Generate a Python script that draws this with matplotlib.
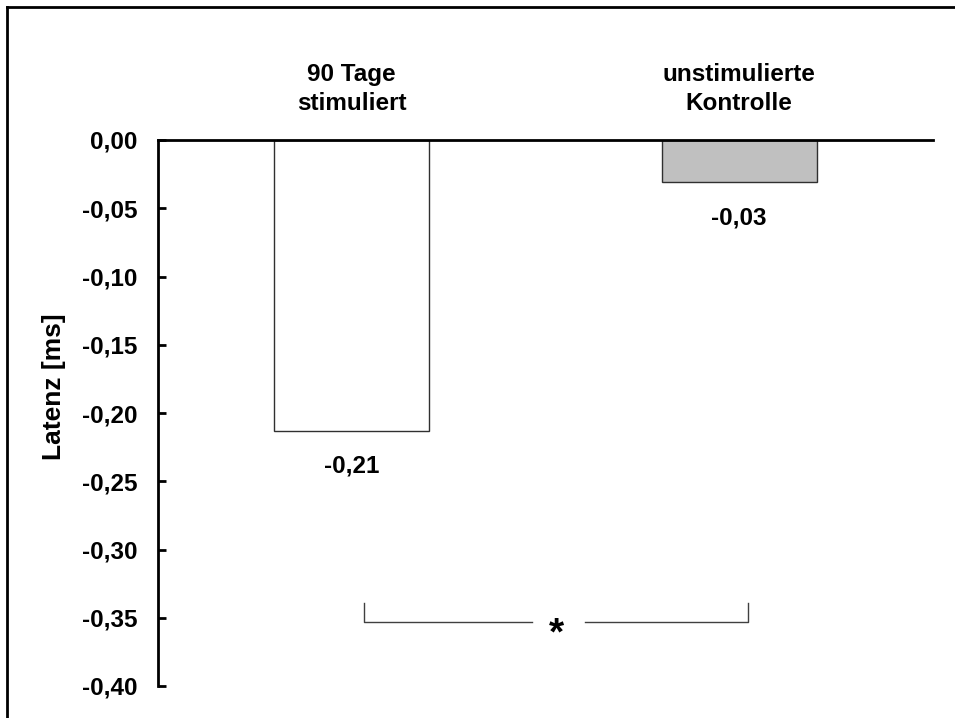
import matplotlib.pyplot as plt
from matplotlib.lines import Line2D

plt.rcParams['font.family'] = ['Liberation Sans', 'DejaVu Sans']
plt.rcParams['font.weight'] = 'bold'

groups = ["90 Tage\nstimuliert", "unstimulierte\nKontrolle"]
latency = [-0.213, -0.031]
bar_colors = ["white", "#c0c0c0"]
yticks = [0.0, -0.05, -0.10, -0.15, -0.20, -0.25, -0.30, -0.35, -0.40]

W, H = 955, 718
FS = 17.5
fig = plt.figure(figsize=(W / 100, H / 100), dpi=100)
ax = fig.add_axes([158 / W, 1 - 686 / H, (933 - 158) / W, (686 - 140) / H])

x = list(range(len(groups)))
ax.bar(x, latency, width=0.4, color=bar_colors, edgecolor="#303030", linewidth=1.0, zorder=2)

ax.set_xlim(-0.5, 1.5)
ax.set_ylim(-0.40, 0.0)
ax.set_yticks(yticks)
ax.set_yticklabels([f"{t:.2f}".replace(".", ",") for t in yticks], fontsize=FS, fontweight="bold")
ax.set_xticks([])
ax.tick_params(axis="y", direction="in", length=6, width=2, pad=15)

for s in ["right", "bottom"]:
    ax.spines[s].set_visible(False)
ax.spines["left"].set_linewidth(2)
ax.spines["top"].set_linewidth(2)

# y label sits a bit above the axis centre in the original
fig.text(54 / W, 1 - 387 / H, "Latenz [ms]", rotation=90, ha="center", va="center",
         fontsize=19, fontweight="bold")

# group names above the zero line, values below the bars
for xi, g, v in zip(x, groups, latency):
    ax.text(xi, 0.0374, g, ha="center", va="center", fontsize=FS, fontweight="bold",
            linespacing=1.3, clip_on=False)
    ax.text(xi, v - 0.026, f"{v:.2f}".replace(".", ","), ha="center", va="center",
            fontsize=FS, fontweight="bold")

# significance bracket
bc = "#404040"
ax.plot([0.032, 0.032, 0.466], [-0.339, -0.353, -0.353], color=bc, lw=1)
ax.plot([0.601, 1.022, 1.022], [-0.353, -0.353, -0.339], color=bc, lw=1)
ax.text(0.528, -0.362, "*", ha="center", va="center", fontsize=28, fontweight="bold")

# outer frame (left and top edges visible)
fig.add_artist(Line2D([7 / W, 7 / W], [0, 1 - 7 / H], color="black", lw=2))
fig.add_artist(Line2D([7 / W, 1], [1 - 7 / H, 1 - 7 / H], color="black", lw=2))

fig.savefig("out.png", dpi=100)
